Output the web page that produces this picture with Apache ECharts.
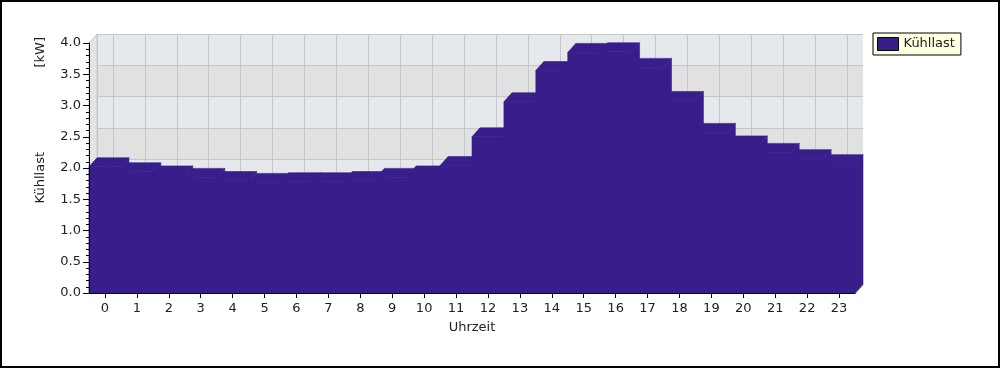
<!DOCTYPE html>
<html>
<head>
<meta charset="utf-8">
<script src="https://cdn.jsdelivr.net/npm/echarts@6/dist/echarts.min.js"></script>
<style>
  html, body { margin: 0; padding: 0; background: #fff; }
  #frame { position: absolute; left: 0; top: 0; width: 1000px; height: 368px; box-sizing: border-box; border: 2px solid #000; }
  #chart { position: absolute; left: 0; top: 0; width: 1000px; height: 370px; }
</style>
</head>
<body>
<div id="frame"></div>
<div id="chart"></div>
<script>
// ---- data ----
const hours = ['0','1','2','3','4','5','6','7','8','9','10','11','12','13','14','15','16','17','18','19','20','21','22','23'];
const coolingLoad = [2.02, 1.94, 1.89, 1.85, 1.80, 1.77, 1.78, 1.78, 1.80, 1.85, 1.89, 2.04,
                     2.50, 3.06, 3.56, 3.85, 3.86, 3.61, 3.08, 2.57, 2.37, 2.25, 2.15, 2.07];
const seriesName = 'Kühllast';
const xAxisTitle = 'Uhrzeit';
const yAxisTitle = 'Kühllast';
const yUnit = '[kW]';
const yMin = 0, yMax = 4, yStep = 0.5;

// back wall half-step positions (for grid lines at hour centres)
const halfSteps = [];
for (let i = 0; i <= hours.length * 2; i++) halfSteps.push(String(i));

const DX = 8, DY = 9;
const FONT = 'DejaVu Sans';
const BAR = '#371E8A';

const chart = echarts.init(document.getElementById('chart'), null, { renderer: 'canvas' });
chart.setOption({
  animation: false,
  textStyle: { fontFamily: FONT },
  grid: [
    { left: 89 + DX, top: 43 - DY, width: 766, height: 250 },
    { left: 89, top: 43, width: 766, height: 250 }
  ],
  xAxis: [
    {
      gridIndex: 0, type: 'category', data: halfSteps, boundaryGap: false,
      axisLine: { show: false }, axisTick: { show: false }, axisLabel: { show: false },
      splitLine: { show: true, interval: function (i) { return i % 2 === 1 || i === 0; },
                   lineStyle: { color: '#C6C6C6', width: 1 } }
    },
    {
      gridIndex: 1, type: 'category', data: hours, boundaryGap: true, z: 10,
      name: xAxisTitle, nameLocation: 'middle', nameGap: 28,
      nameTextStyle: { fontFamily: FONT, fontSize: 13, color: '#222' },
      axisLine: { show: true, lineStyle: { color: '#000', width: 1 } },
      axisTick: { show: true, alignWithLabel: true, length: 5, lineStyle: { color: '#000' } },
      axisLabel: { fontFamily: FONT, fontSize: 13, color: '#222', margin: 9, interval: 0 },
      splitLine: { show: false }
    }
  ],
  yAxis: [
    {
      gridIndex: 0, type: 'value', min: yMin, max: yMax, interval: yStep,
      axisLine: { show: false }, axisTick: { show: false }, axisLabel: { show: false },
      splitLine: { show: true, lineStyle: { color: '#C6C6C6', width: 1 } },
      splitArea: { show: true, areaStyle: { color: ['#E1E1E1', '#E6E9EC'] } }
    },
    {
      gridIndex: 1, type: 'value', min: yMin, max: yMax, interval: yStep, z: 10,
      axisLine: { show: true, lineStyle: { color: '#000', width: 1 } },
      axisTick: { show: true, length: 6, lineStyle: { color: '#000' } },
      minorTick: { show: true, splitNumber: 5, length: 3, lineStyle: { color: '#000' } },
      axisLabel: { fontFamily: FONT, fontSize: 13, color: '#222', margin: 8,
                   formatter: function (v) { return v.toFixed(1); } },
      splitLine: { show: false }
    }
  ],
  legend: {
    left: 873, top: 33, orient: 'vertical',
    backgroundColor: '#FFFFE1', borderColor: '#000', borderWidth: 1, borderRadius: 0,
    padding: [4, 6, 4, 4], itemWidth: 21, itemHeight: 13,
    itemStyle: { color: BAR, borderColor: '#000', borderWidth: 1 },
    textStyle: { fontFamily: FONT, fontSize: 13, color: '#222' },
    data: [{ name: seriesName, icon: 'rect' }]
  },
  graphic: [
    { type: 'polygon', z: 0, silent: true,
      shape: { points: [[89, 293], [89, 43], [89 + DX, 43 - DY], [89 + DX, 293 - DY]] },
      style: { fill: '#E4E4E4', stroke: '#C6C6C6', lineWidth: 1 } },
    { type: 'polyline', z: 100, silent: true,
      shape: { points: [[855, 293.5], [855 + DX, 293.5 - DY]] },
      style: { stroke: '#444', lineWidth: 1 } },
    { type: 'text', left: 34, top: 152, rotation: Math.PI / 2, silent: true,
      style: { text: yAxisTitle, font: '13px "DejaVu Sans"', fill: '#222' } },
    { type: 'text', left: 34, top: 37, rotation: Math.PI / 2, silent: true,
      style: { text: yUnit, font: '13px "DejaVu Sans"', fill: '#222' } }
  ],
  series: [{
    name: seriesName,
    type: 'custom',
    xAxisIndex: 1, yAxisIndex: 1,
    itemStyle: { color: BAR },
    data: coolingLoad.map(function (v, i) { return [i, v]; }),
    renderItem: function (params, api) {
      const idx = api.value(0), v = api.value(1);
      const top = api.coord([idx, v]);
      const base = api.coord([idx, 0]);
      const w = api.size([1, 0])[0];
      const x0 = top[0] - w / 2, x1 = top[0] + w / 2;
      const yt = top[1], yb = base[1];
      const st = { fill: BAR, stroke: BAR, lineWidth: 0.6 };
      return {
        type: 'group',
        children: [
          { type: 'polygon',
            shape: { points: [[x1, yt], [x1 + DX, yt - DY], [x1 + DX, yb - DY], [x1, yb]] },
            style: st },
          { type: 'polygon',
            shape: { points: [[x0, yt], [x1, yt], [x1 + DX, yt - DY], [x0 + DX, yt - DY]] },
            style: st },
          { type: 'rect',
            shape: { x: x0, y: yt, width: w + 0.5, height: yb - yt },
            style: st }
        ]
      };
    }
  }]
});
</script>
</body>
</html>
